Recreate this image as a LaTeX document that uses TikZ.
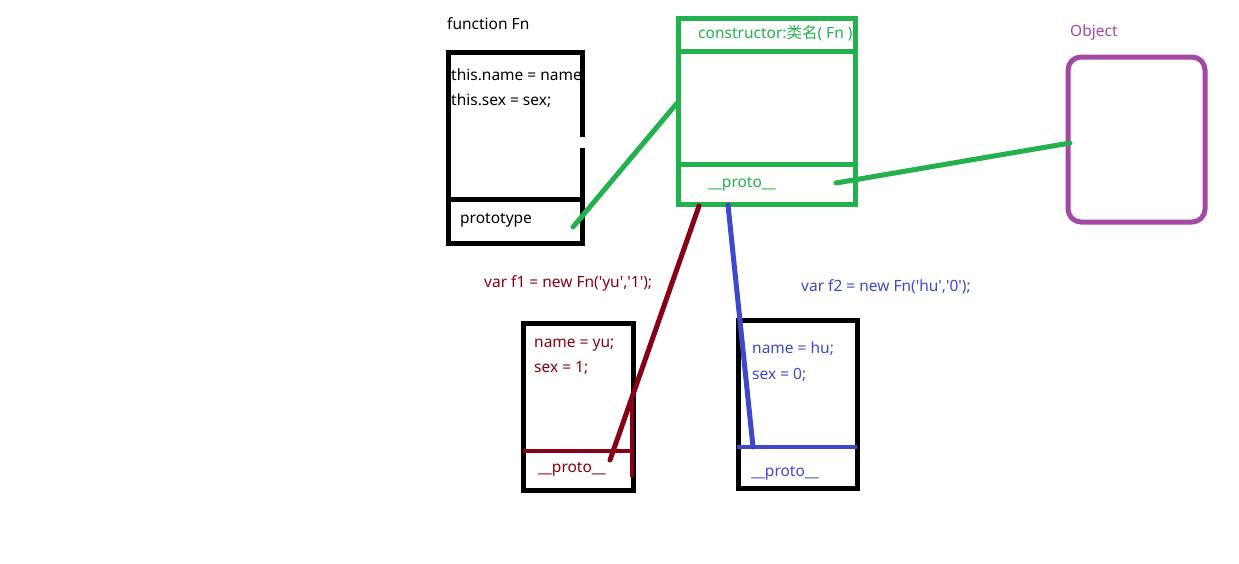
\documentclass[tikz,border=0pt]{standalone}
\usepackage{fontspec}
\newfontfamily\uifont{Noto Sans}
\newfontfamily\cjk{Noto Sans CJK SC}
\definecolor{pgreen}{HTML}{22B14C}
\definecolor{ppurple}{HTML}{A349A4}
\definecolor{pred}{HTML}{880015}
\definecolor{pblue}{HTML}{3F48CC}
\begin{document}
\begin{tikzpicture}[x=1pt,y=-1pt,
  lbl/.style={anchor=base west,inner sep=0pt,font=\uifont\fontsize{15.5}{17}\selectfont},
  blackbox/.style={draw=black,line width=5pt,inner sep=0pt},
  conn/.style={line width=5pt,line cap=round}]
\useasboundingbox[fill=white] (0,0) rectangle (1239,563);

% ---- function Fn ----
\node[lbl] (fntitle) at (447,29) {function Fn};
\node[blackbox,minimum width=134pt,minimum height=191pt] (fnbox) at (515,147.5) {};
\fill[white] (579,137) rectangle (586,148);
\coordinate (fnL) at (448,199);
\coordinate (fnR) at (582,199);
\draw[line width=5pt] (fnL) -- (fnR);
\node[lbl] (fnname) at (451,80) {this.name = name};
\node[lbl] (fnsex) at (451,105) {this.sex = sex;};
\node[lbl] (fnproto) at (460,223) {prototype};

% ---- prototype object ----
\node[draw=pgreen,line width=5pt,inner sep=0pt,minimum width=177pt,minimum height=186pt] (gbox) at (766.5,111) {};
\coordinate (g1L) at (678,51);
\coordinate (g1R) at (857,51);
\coordinate (g2L) at (678,164);
\coordinate (g2R) at (855,164);
\draw[pgreen,line width=5pt] (g1L) -- (g1R);
\draw[pgreen,line width=5pt] (g2L) -- (g2R);
\node[lbl,text=pgreen] (gctor) at (698,38) {constructor:{\cjk 类名}( Fn )};
\node[lbl,text=pgreen] (gproto) at (708,187) {\_\_proto\_\_};

% ---- Object ----
\node[lbl,text=ppurple] (objtitle) at (1070,36) {Object};
\node[draw=ppurple,line width=5pt,rounded corners=13pt,inner sep=0pt,minimum width=137pt,minimum height=165pt] (objbox) at (1136.5,139.5) {};

% ---- f1 ----
\node[lbl,text=pred] (f1title) at (484,287) {var f1 = new Fn('yu','1');};
\node[blackbox,minimum width=110pt,minimum height=167pt] (f1box) at (578,406.5) {};
\coordinate (f1L) at (523,451);
\coordinate (f1R) at (633,451);
\draw[pred,line width=4.5pt] (f1L) -- (f1R);
\coordinate (f1vt) at (632,397);
\coordinate (f1vb) at (632,477);
\draw[pred,line width=4.5pt] (f1vt) -- (f1vb);
\node[lbl,text=pred] (f1name) at (534,347) {name = yu;};
\node[lbl,text=pred] (f1sex) at (534,372) {sex = 1;};
\node[lbl,text=pred] (f1proto) at (538,472) {\_\_proto\_\_};

% ---- f2 ----
\node[lbl,text=pblue] (f2title) at (801,291) {var f2 = new Fn('hu','0');};
\node[blackbox,minimum width=119pt,minimum height=168pt] (f2box) at (797.5,404) {};
\coordinate (f2L) at (737,447);
\coordinate (f2R) at (857,447);
\draw[pblue,line width=4.5pt] (f2L) -- (f2R);
\node[lbl,text=pblue] (f2name) at (752,353) {name = hu;};
\node[lbl,text=pblue] (f2sex) at (752,379) {sex = 0;};
\node[lbl,text=pblue] (f2proto) at (751,476) {\_\_proto\_\_};

% ---- connectors ----
\coordinate (c1a) at (573,227);
\coordinate (c1b) at (678,102);
\draw[conn,pgreen] (c1a) -- (c1b);
\coordinate (c2a) at (836,183);
\coordinate (c2b) at (1070,143);
\draw[conn,pgreen] (c2a) -- (c2b);
\coordinate (c3a) at (699,206);
\coordinate (c3b) at (610,460);
\draw[conn,pred] (c3a) -- (c3b);
\coordinate (c4a) at (728,205);
\coordinate (c4b) at (753,447);
\draw[conn,pblue] (c4a) -- (c4b);
\end{tikzpicture}
\end{document}
